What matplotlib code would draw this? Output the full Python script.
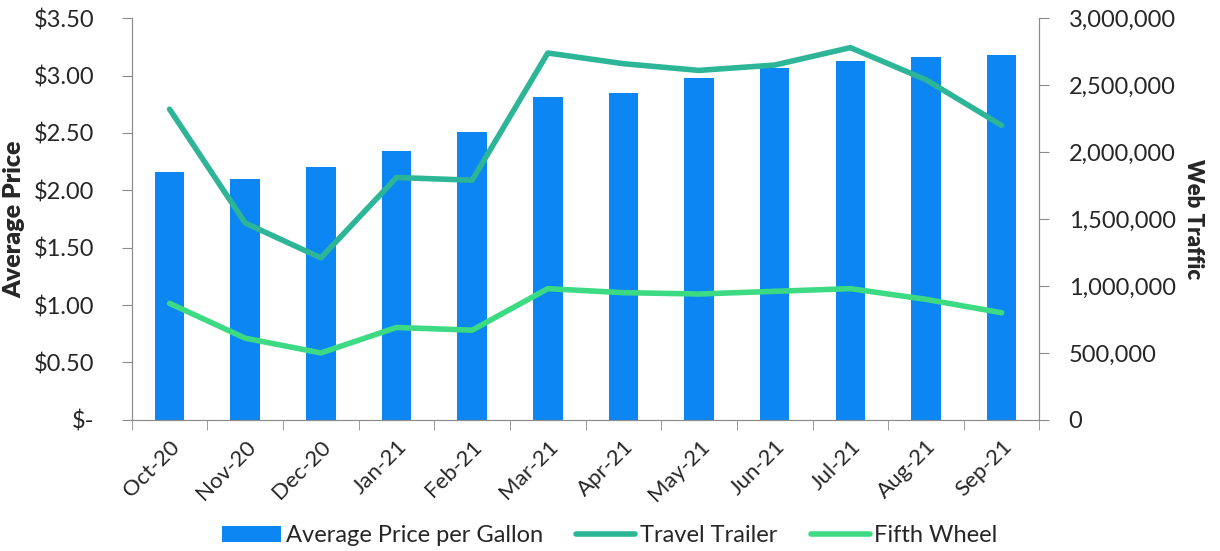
import numpy as np
import matplotlib.pyplot as plt
from matplotlib.ticker import FuncFormatter, FixedLocator

plt.rcParams['font.family'] = ['Lato', 'DejaVu Sans']

# Monthly data
months = ["Oct-20", "Nov-20", "Dec-20", "Jan-21", "Feb-21", "Mar-21",
          "Apr-21", "May-21", "Jun-21", "Jul-21", "Aug-21", "Sep-21"]
avg_price = [2.16, 2.10, 2.20, 2.34, 2.51, 2.81, 2.85, 2.98, 3.07, 3.13, 3.16, 3.18]
travel_trailer = [2320000, 1470000, 1210000, 1810000, 1790000, 2740000,
                  2660000, 2610000, 2650000, 2780000, 2540000, 2200000]
fifth_wheel = [870000, 610000, 500000, 690000, 670000, 980000,
               950000, 940000, 960000, 980000, 900000, 800000]

bar_color = "#0B86F2"
tt_color = "#2DB597"
fw_color = "#3DDA84"
spine_color = "#8c8c8c"
text_color = "#262626"

fig = plt.figure(figsize=(12.2, 5.51), dpi=100)
ax = fig.add_axes([0.108, 0.238, 0.744, 0.729])
ax2 = ax.twinx()

x = np.arange(len(months))
bars = ax.bar(x, avg_price, width=0.39, color=bar_color, zorder=2,
              label="Average Price per Gallon")
l1, = ax2.plot(x, travel_trailer, color=tt_color, lw=4, solid_capstyle='round',
               label="Travel Trailer")
l2, = ax2.plot(x, fifth_wheel, color=fw_color, lw=4, solid_capstyle='round',
               label="Fifth Wheel")

ax.set_xlim(-0.5, len(months) - 0.5)
ax.set_ylim(0, 3.5)
ax.set_yticks(np.arange(0, 3.51, 0.5))
ax.yaxis.set_major_formatter(FuncFormatter(lambda v, p: "$-" if v == 0 else f"${v:.2f}"))
ax2.set_ylim(0, 3000000)
ax2.set_yticks(np.arange(0, 3000001, 500000))
ax2.yaxis.set_major_formatter(FuncFormatter(lambda v, p: f"{int(v):,}"))

ax.set_xticks(x)
ax.set_xticklabels(months, rotation=45, ha='right', rotation_mode='anchor')
ax.xaxis.set_minor_locator(FixedLocator(np.arange(-0.5, len(months), 1.0)))
ax.tick_params(axis='x', which='major', length=0, pad=12, labelsize=16, colors=text_color)
ax.tick_params(axis='x', which='minor', length=7, color=spine_color)
ax.tick_params(axis='y', length=7, color=spine_color, labelsize=17, labelcolor=text_color, pad=20)
ax2.tick_params(axis='y', length=7, color=spine_color, labelsize=17, labelcolor=text_color, pad=14)

for a in (ax, ax2):
    a.spines['top'].set_visible(False)
    for s in ('left', 'right', 'bottom'):
        a.spines[s].set_color(spine_color)

ax.set_ylabel("Average Price", fontsize=18, fontweight='heavy', labelpad=6, color=text_color)
ax2.set_ylabel("Web Traffic", fontsize=16, fontweight='heavy', rotation=270, labelpad=20,
               color=text_color)

fig.legend(handles=[bars, l1, l2], loc='lower center', bbox_to_anchor=(0.5, -0.03),
           ncol=3, frameon=False, fontsize=17, handlelength=2.5, columnspacing=1.4,
           handletextpad=0.2, labelcolor=text_color)

fig.savefig("out.png", dpi=100)
